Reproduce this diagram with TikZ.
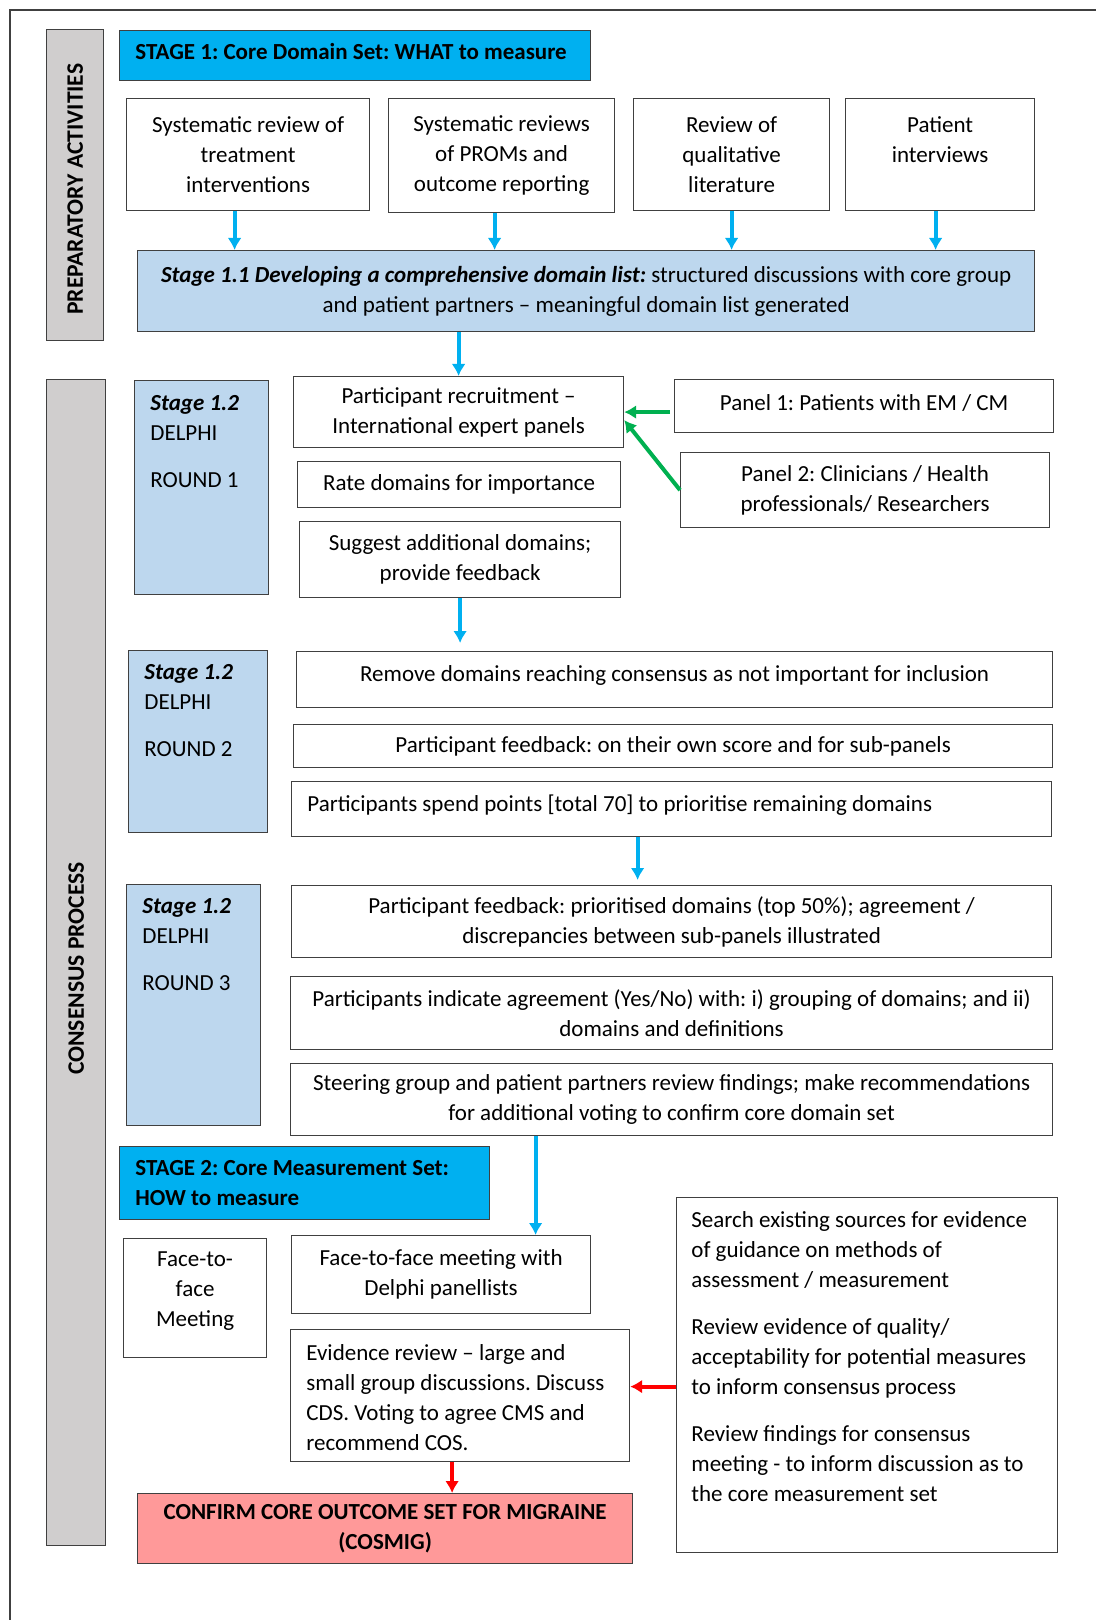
\documentclass[tikz,border=0pt]{standalone}
\usepackage{fontspec}
\setmainfont{Carlito}
\usetikzlibrary{arrows.meta}
\frenchspacing

\definecolor{stagecyan}{HTML}{00B0F0}
\definecolor{delphiblue}{HTML}{BDD7EE}
\definecolor{bargray}{HTML}{D0CECE}
\definecolor{confirmpink}{HTML}{FF9999}
\definecolor{panelgreen}{HTML}{00B050}
\definecolor{evred}{HTML}{FF0000}
\definecolor{linegray}{HTML}{404040}

\tikzset{
  box/.style={draw=linegray, line width=0.6pt, inner sep=0pt, anchor=north west,
    align=center, font=\fontsize{11.5}{15}\selectfont},
  wh/.style 2 args={minimum width=#1*0.5pt, minimum height=#2*0.5pt},
  stagebox/.style={box, fill=stagecyan},
  delphibox/.style={box, fill=delphiblue},
  barbox/.style={box, fill=bargray},
  confirmbox/.style={box, fill=confirmpink, font=\bfseries\fontsize{11.5}{15}\selectfont},
  txt/.style={inner sep=0pt, align=left, anchor=north west,
    font=\fontsize{11.5}{15}\selectfont},
  bartext/.style={inner sep=0pt, rotate=90, font=\bfseries\fontsize{11.8}{14}\selectfont},
  flow/.style={->, line width=2pt, draw=stagecyan},
  panelarrow/.style={->, line width=2pt, draw=panelgreen},
  evarrow/.style={->, line width=2pt, draw=evred}
}

\begin{document}
\begin{tikzpicture}[x=0.5pt,y=-0.5pt,>={Latex[length=6pt,width=7pt]}]
  \useasboundingbox (0,0) rectangle (1096,1620);

  % outer frame
  \draw[linegray, line width=0.8pt] (10,1620) -- (10,10) -- (1096,10);

  % side bars
  \node[barbox, wh={57}{311}] (prepbar) at (46,29) {};
  \node[bartext, xshift=-2pt] at (prepbar.center) {PREPARATORY ACTIVITIES};
  \node[barbox, wh={59}{1166}] (consbar) at (46,379) {};
  \node[bartext, xshift=-3pt] at (consbar.center) {CONSENSUS PROCESS};

  % stage 1
  \node[stagebox, wh={471}{50}] (stage1) at (119,30) {};
  \node[txt, font=\bfseries\fontsize{11.5}{15}\selectfont] at (135,43) {STAGE 1: Core Domain Set: WHAT to measure};

  % preparatory sources
  \node[box, wh={243}{112}] (srtreat) at (126,98) {Systematic review of\\treatment\\interventions};
  \node[box, wh={226}{114}] (srproms) at (388,98) {Systematic reviews\\of PROMs and\\outcome reporting};
  \node[box, wh={196}{112}] (qualrev) at (633,98) {Review of\\qualitative\\literature};
  \node[box, wh={189}{112}] (patint) at (845,98) {Patient\\interviews\\\mbox{}};

  % stage 1.1
  \node[delphibox, wh={897}{81}] (stage11) at (137,250) {\textbf{\textit{Stage 1.1 Developing a comprehensive domain list:}} structured discussions with core group\\and patient partners -- meaningful domain list generated};

  \draw[flow] ([xshift=-6.75pt]srtreat.south) -- ([xshift=-6.75pt]srtreat.south |- stage11.north);
  \draw[flow] ([xshift=-3.5pt]srproms.south) -- ([xshift=-3.5pt]srproms.south |- stage11.north);
  \draw[flow] (qualrev.south) -- (qualrev.south |- stage11.north);
  \draw[flow] ([xshift=-2.25pt]patint.south) -- ([xshift=-2.25pt]patint.south |- stage11.north);

  % delphi round 1
  \node[delphibox, wh={134}{214}] (round1) at (134,380) {};
  \node[txt] at (150,395) {\textbf{\textit{Stage 1.2}}\\DELPHI\\[8.5pt]ROUND 1};
  \node[box, wh={330}{71}] (recruit) at (293,376) {Participant recruitment --\\International expert panels};
  \node[box, wh={323}{46}] (ratedom) at (297,461) {Rate domains for importance};
  \node[box, wh={321}{76}] (suggest) at (299,521) {Suggest additional domains;\\provide feedback};
  \node[box, wh={379}{53}] (panel1) at (674,379) {\raisebox{3.5pt}{Panel 1: Patients with EM / CM}};
  \node[box, wh={369}{75}] (panel2) at (680,452) {Panel 2: Clinicians / Health\\professionals/ Researchers};

  \draw[flow] (recruit.north |- stage11.south) -- (recruit.north);
  \draw[panelarrow, shorten <=2pt] (panel1.west |- recruit.east) -- (recruit.east);
  \draw[panelarrow] (panel2.west) -- ([yshift=-4pt]recruit.east);

  % delphi round 2
  \node[delphibox, wh={139}{182}] (round2) at (128,650) {};
  \node[txt] at (144,664) {\textbf{\textit{Stage 1.2}}\\DELPHI\\[8.5pt]ROUND 2};
  \node[box, wh={756}{56}] (removedom) at (296,651) {\raisebox{6pt}{Remove domains reaching consensus as not important for inclusion}};
  \node[box, wh={759}{43}] (feedback1) at (293,724) {Participant feedback: on their own score and for sub-panels};
  \node[box, wh={760}{55}] (spendpts) at (291,781) {};
  \node[txt] at (307,794) {Participants spend points [total 70] to prioritise remaining domains};

  \draw[flow, shorten >=4pt] (suggest.south) -- (suggest.south |- removedom.north);

  % delphi round 3
  \node[delphibox, wh={134}{241}] (round3) at (126,884) {};
  \node[txt] at (142,898) {\textbf{\textit{Stage 1.2}}\\DELPHI\\[8.5pt]ROUND 3};
  \node[box, wh={760}{72}] (feedback2) at (291,885) {Participant feedback: prioritised domains (top 50\%); agreement /\\discrepancies between sub-panels illustrated};
  \node[box, wh={762}{73}] (agreement) at (290,976) {Participants indicate agreement (Yes/No) with: i) grouping of domains; and ii)\\domains and definitions};
  \node[box, wh={762}{72}] (steering) at (290,1063) {Steering group and patient partners review findings; make recommendations\\for additional voting to confirm core domain set};

  \draw[flow, shorten >=2.5pt] ([xshift=-17pt]spendpts.south) -- ([xshift=-17pt]spendpts.south |- feedback2.north);

  % stage 2
  \node[stagebox, wh={370}{73}] (stage2) at (119,1146) {};
  \node[txt, font=\bfseries\fontsize{11.5}{15}\selectfont] at (135,1160) {STAGE 2: Core Measurement Set:\\HOW to measure};
  \node[box, wh={143}{119}] (f2fmeet) at (123,1238) {Face-to-\\face\\Meeting\\[-6pt]\mbox{}};
  \node[box, wh={299}{78}] (f2fdelphi) at (291,1235) {Face-to-face meeting with\\Delphi panellists};
  \node[box, wh={339}{132}] (evidence) at (290,1329) {};
  \node[txt] at (306,1344) {Evidence review -- large and\\small group discussions. Discuss\\CDS. Voting to agree CMS and\\recommend COS.};
  \node[box, wh={381}{355}] (sources) at (676,1197) {};
  \node[txt] at (691,1211) {Search existing sources for evidence\\of guidance on methods of\\assessment / measurement\\[8.5pt]Review evidence of quality/\\acceptability for potential measures\\to inform consensus process\\[8.5pt]Review findings for consensus\\meeting - to inform discussion as to\\the core measurement set};
  \node[confirmbox, wh={495}{70}] (confirm) at (137,1493) {CONFIRM CORE OUTCOME SET FOR MIGRAINE\\(COSMIG)};

  \draw[flow] ([xshift=-68pt]steering.south) -- ([xshift=-68pt]steering.south |- f2fdelphi.north);
  \coordinate (evin) at ([yshift=4.5pt]evidence.east);
  \draw[evarrow] (sources.west |- evin) -- (evin);
  \draw[evarrow] ([xshift=-4pt]evidence.south) -- ([xshift=-4pt]evidence.south |- confirm.north);
\end{tikzpicture}
\end{document}
